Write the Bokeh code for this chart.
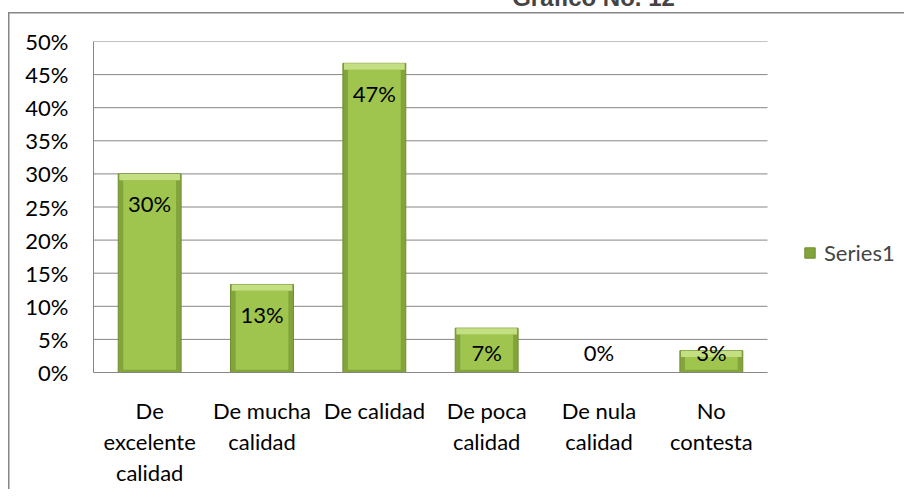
from bokeh.plotting import figure
from bokeh.models import (ColumnDataSource, LabelSet, Label, Legend, LegendItem,
                          NumeralTickFormatter, FixedTicker, Range1d)
from bokeh.embed import file_html
from bokeh.resources import INLINE
from bokeh.core.properties import value

# ---------------- data ----------------
title_text = "Gráfico No. 12"
categories = ["De\nexcelente\ncalidad", "De mucha\ncalidad", "De calidad",
              "De poca\ncalidad", "De nula\ncalidad", "No\ncontesta"]
values = [0.30, 0.133, 0.467, 0.067, 0.0, 0.033]
value_labels = ["30%", "13%", "47%", "7%", "0%", "3%"]
y_ticks = [0.0, 0.05, 0.10, 0.15, 0.20, 0.25, 0.30, 0.35, 0.40, 0.45, 0.50]
series_name = "Series1"

# ---------------- layout ----------------
W, H = 904, 489
FL, PR, FT, FB = 93, 767, 41, 378          # plot-area edges in canvas px
Y_MAX = 0.5
N = len(categories)
px_per_y = (FB - FT) / Y_MAX
px_per_x = (PR - FL) / N
X_END = N * (W - FL) / (PR - FL)           # frame runs on to the right edge (legend area)
TITLE_BASE = -4                            # title baseline (px) - cut at the top as in the original

FONT = "Lato"
FS = "22px"
GRID = "#868686"

p = figure(width=W, height=H, output_backend="svg", toolbar_location=None,
           x_range=Range1d(0, X_END), y_range=Range1d(0, Y_MAX),
           min_border_left=FL, min_border_right=0,
           min_border_top=FT, min_border_bottom=H - FB)
p.outline_line_color = None
p.background_fill_color = "white"
p.border_fill_color = None
# outer chart border (its left and top edges are what the original shows)
p.styles = {
    "background-color": "white",
    "background-image": "linear-gradient(#868686, #868686), linear-gradient(#868686, #868686)",
    "background-size": "1.5px 100%, 100% 1.5px",
    "background-position": "7.5px 11.5px, 7.5px 11.5px",
    "background-repeat": "no-repeat",
}

# title, in the top panel
p.add_layout(Label(x=(593 - FL) / px_per_x, y=Y_MAX + (FT - TITLE_BASE) / px_per_y,
                   text=title_text, text_font="Liberation Sans",
                   text_font_style="bold", text_font_size="24px",
                   text_align="center", text_baseline="alphabetic"), "above")

# horizontal gridlines across the plot area only
p.segment(x0=0, x1=N, y0=y_ticks, y1=y_ticks, line_color=GRID, line_width=1)

# bars: outer (edge), inner face and top bevel
xpos = [i + 0.5 for i in range(N)]
bar_w = 0.56
inner_top = [max(v - 0.0095, 0) for v in values]
inner_bot = [min(0.004, v) for v in values]
bevel_bot = [max(v - 0.0095, 0) for v in values]
src = ColumnDataSource(dict(x=xpos, top=values, itop=inner_top, ibot=inner_bot,
                            bbot=bevel_bot, lab=value_labels,
                            ly=[max(v - 0.045, 0.03) for v in values]))
bars = p.vbar(x="x", top="top", bottom=0, width=bar_w, source=src,
              fill_color="#82a43b", line_color="#6f8f2e", line_width=1)
p.vbar(x="x", top="itop", bottom="ibot", width=bar_w - 0.09, source=src,
       fill_color="#9fc54f", line_color=None)
p.vbar(x="x", top="top", bottom="bbot", width=bar_w - 0.02, source=src,
       fill_color="#c4df82", line_color=None)

# data labels
p.add_layout(LabelSet(x="x", y="ly", text="lab", source=src,
                      text_font=value(FONT), text_font_size=FS,
                      text_align="center", text_baseline="middle", text_color="black"))

# axes
p.yaxis.ticker = FixedTicker(ticks=y_ticks)
p.yaxis.formatter = NumeralTickFormatter(format="0%")
p.yaxis.major_tick_line_color = None
p.yaxis.minor_tick_line_color = None
p.yaxis.major_tick_out = 0
p.yaxis.major_label_standoff = 25
p.yaxis.axis_line_color = GRID
p.yaxis.major_label_text_font = FONT
p.yaxis.major_label_text_font_size = FS
p.yaxis.major_label_text_color = "black"

p.xaxis.ticker = FixedTicker(ticks=xpos)
p.xaxis.major_label_overrides = {x: c for x, c in zip(xpos, categories)}
p.xaxis.bounds = (0, N)
p.xaxis.major_tick_line_color = None
p.xaxis.minor_tick_line_color = None
p.xaxis.major_tick_out = 0
p.xaxis.major_label_standoff = 24
p.xaxis.axis_line_color = GRID
p.xaxis.major_label_text_font = FONT
p.xaxis.major_label_text_font_size = FS
p.xaxis.major_label_text_color = "black"
p.xaxis.major_label_text_line_height = 1.16
p.xaxis.major_label_orientation = "horizontal"

p.xgrid.visible = False
p.ygrid.visible = False

# legend, to the right of the plot area
legend = Legend(items=[LegendItem(label=series_name, renderers=[bars])],
                location=(803 - FL, FB - 272), padding=0, margin=0,
                glyph_width=13, glyph_height=13, label_standoff=8,
                label_height=20, border_line_color=None, background_fill_alpha=0,
                label_text_font=FONT, label_text_font_size=FS)
p.add_layout(legend)

open("out.html", "w").write(file_html(p, INLINE))
